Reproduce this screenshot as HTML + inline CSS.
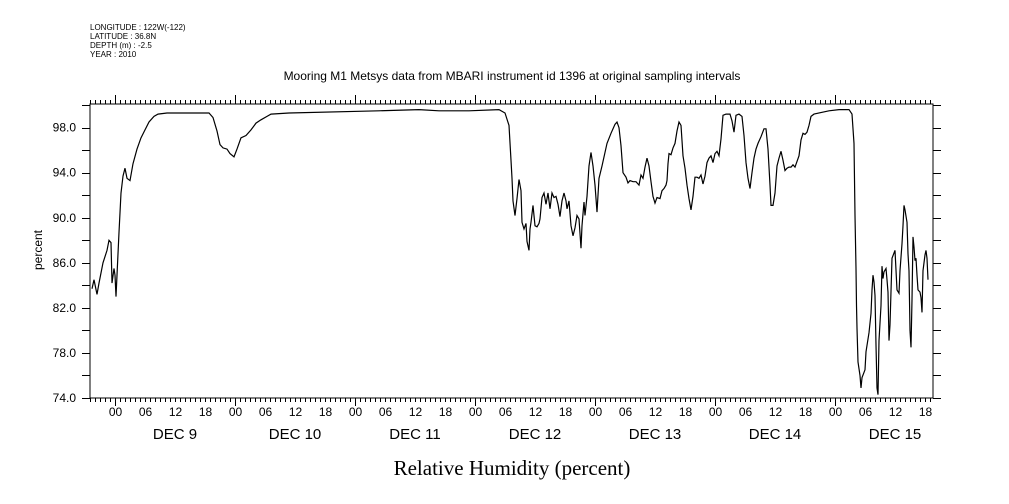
<!DOCTYPE html>
<html><head><meta charset="utf-8"><style>
html,body{margin:0;padding:0;background:#fff;}
svg{display:block;font-family:"Liberation Sans",sans-serif;}
</style></head><body>
<svg id="chart" width="1009" height="504" viewBox="0 0 1009 504" xmlns="http://www.w3.org/2000/svg">
<rect width="1009" height="504" fill="#fff"/>
<g font-size="8" fill="#000">
<text x="90" y="30">LONGITUDE : 122W(-122)</text>
<text x="90" y="39">LATITUDE : 36.8N</text>
<text x="90" y="48">DEPTH (m) : -2.5</text>
<text x="90" y="57">YEAR : 2010</text>
</g>
<text x="512" y="80" text-anchor="middle" font-size="12">Mooring M1 Metsys data from MBARI instrument id 1396 at original sampling intervals</text>
<text x="512" y="475" text-anchor="middle" font-size="21" font-family="Liberation Serif, serif">Relative Humidity (percent)</text>
<text x="42" y="250" text-anchor="middle" font-size="12" transform="rotate(-90 42 250)">percent</text>
<g id="axes" stroke="#000" stroke-width="1" shape-rendering="crispEdges"></g>
<g id="labels" fill="#000" font-size="12"></g>
<path id="line" fill="none" stroke="#000" stroke-width="1.2"/>
</svg>
<script>
// hours since Dec 9 00:00 (2010)
const times = [-4.6,-4.2,-3.6,-3.2,-2.4,-1.6,-1.2,-0.8,-0.6,-0.2,0,0.2,0.4,0.8,1.2,1.6,2.0,2.4,3.0,3.6,4.4,5.2,6.0,6.8,7.8,8.6,10.4,18.8,19.6,20.4,21.0,21.6,22.4,23.0,23.8,24.4,25.2,26.2,27.2,28.2,29.2,30.4,31.2,34.8,52.8,60.8,64.8,70.8,76.8,78.0,
78.8,79.2,79.4,79.6,80.0,80.4,80.8,81.2,81.4,81.8,82.2,82.4,82.8,83.0,83.2,83.6,84.0,84.4,84.8,85.0,85.4,85.8,86.2,86.6,87.0,87.4,87.8,88.2,88.6,89.0,89.4,89.8,90.2,90.4,90.8,91.2,91.6,92.0,92.4,92.8,93.2,93.4,93.8,94.0,94.4,94.8,95.2,95.6,96.0,96.4,96.8,97.4,98.4,99.2,100.0,100.4,100.8,101.2,101.6,102.2,102.6,103.0,103.6,104.2,104.8,105.2,105.6,106.0,106.4,106.8,107.2,107.6,108.0,108.4,109.0,109.4,109.8,110.2,110.4,110.6,110.8,111.2,111.6,112.0,112.4,112.8,113.2,113.6,114.0,114.4,114.8,115.2,115.6,116.0,116.4,116.8,117.2,117.6,118.0,118.4,118.8,119.2,119.6,120.0,120.4,120.8,121.2,121.6,122.2,123.0,123.4,123.8,124.2,124.8,125.4,125.8,126.2,126.6,127.0,127.4,127.8,128.2,128.6,129.2,129.8,130.2,130.6,131.0,131.2,131.6,132.0,132.4,132.8,133.2,133.6,134.0,134.4,134.8,135.2,135.6,136.0,136.4,136.8,137.2,137.6,138.0,138.4,138.8,139.2,139.8,142.8,144.8,146.8,147.4,147.8,148.0,148.2,148.3,148.4,148.6,149.0,149.2,149.4,150.0,150.2,150.8,151.2,151.4,151.6,151.8,152.0,152.2,152.4,152.6,152.8,153.2,153.4,153.6,153.8,154.2,154.4,154.6,154.8,155.0,155.4,156.0,156.4,156.8,157.0,157.4,157.6,157.8,158.0,158.4,158.6,158.8,159.0,159.2,159.4,159.6,159.8,160.0,160.2,160.4,160.6,161.0,161.2,161.4,161.6,162.0,162.2,162.4,162.6];
const values = [83.7,84.5,83.2,84.2,86.0,87.1,88.0,87.8,84.2,85.5,84.9,83.0,84.9,88.7,92.2,93.7,94.4,93.5,93.3,94.8,96.1,97.1,97.8,98.5,99.0,99.2,99.3,99.3,98.9,97.7,96.5,96.2,96.1,95.7,95.4,96.1,97.1,97.3,97.8,98.4,98.7,99.0,99.2,99.3,99.5,99.6,99.5,99.5,99.6,99.3,
98.2,95.1,93.5,91.5,90.2,91.7,93.4,92.4,89.6,89.0,89.5,87.9,87.1,89.0,89.6,91.1,89.3,89.2,89.5,89.9,91.8,92.2,91.2,92.2,90.8,92.2,91.8,91.9,91.2,90.1,91.5,92.2,91.5,90.8,91.5,89.3,88.4,89.1,90.2,89.9,87.3,89.3,91.4,90.2,91.9,94.6,95.8,94.6,92.9,90.5,93.5,94.6,96.6,97.5,98.3,98.5,98.0,96.4,94.0,93.6,93.1,93.3,93.2,93.2,92.9,93.8,93.5,94.5,95.3,94.6,93.2,91.9,91.3,91.8,91.7,92.4,92.6,92.9,93.3,94.8,95.7,95.6,96.2,96.6,97.7,98.5,98.2,95.5,94.4,92.9,91.7,90.7,91.9,93.6,93.6,93.5,93.8,93.0,93.7,94.9,95.3,95.5,94.9,95.7,95.9,95.5,97.0,99.1,99.2,99.2,98.6,97.6,99.1,99.2,99.0,97.3,94.9,93.5,92.6,94.0,95.3,96.1,96.6,97.2,97.9,97.9,96.1,92.9,91.1,91.1,92.2,94.6,95.3,95.9,95.1,94.2,94.4,94.5,94.5,94.7,94.5,95.0,95.5,96.9,97.5,97.4,97.6,98.2,99.0,99.2,99.5,99.6,99.6,99.2,96.6,90.2,85.5,82.2,80.2,77.2,76.0,74.9,75.8,76.5,78.1,79.8,81.5,83.6,84.9,84.3,83.1,78.7,74.9,74.3,79.1,82.2,85.7,84.6,85.2,85.5,84.5,83.4,79.1,80.5,86.4,87.1,83.6,83.3,85.3,87.7,89.3,91.1,90.7,89.6,86.8,85.3,80.0,78.5,82.7,88.3,87.4,86.2,86.4,84.9,83.6,83.4,82.9,81.6,85.3,86.7,87.1,86.4,84.5];
const yTicks = [74,78,82,86,90,94,98];
const yTickLabels = ["74.0","78.0","82.0","86.0","90.0","94.0","98.0"];
const dayLabels = ["DEC  9","DEC 10","DEC 11","DEC 12","DEC 13","DEC 14","DEC 15"];
const hourLabels = ["00","06","12","18"];

const L=90,R=933,T=104,B=398;
const hMin=-5.0, hMax=163.6, vMin=74, vMax=100.1;
const xs=h=>L+(h-hMin)/(hMax-hMin)*(R-L);
const ys=v=>B-(v-vMin)/(vMax-vMin)*(B-T);
const NS="http://www.w3.org/2000/svg";
const axes=document.getElementById('axes'), labels=document.getElementById('labels');
function ln(x1,y1,x2,y2,name){const e=document.createElementNS(NS,'line');e.setAttribute('x1',x1);e.setAttribute('y1',y1);e.setAttribute('x2',x2);e.setAttribute('y2',y2);


axes.appendChild(e);}
function tx(x,y,s,anchor,size,name){const e=document.createElementNS(NS,'text');e.setAttribute('x',x);e.setAttribute('y',y);e.setAttribute('text-anchor',anchor);if(size)e.setAttribute('font-size',size);e.textContent=s;


labels.appendChild(e);}
// frame
const fr=document.createElementNS(NS,'rect');fr.setAttribute('x',L);fr.setAttribute('y',T);fr.setAttribute('width',R-L);fr.setAttribute('height',B-T);fr.setAttribute('fill','none');


axes.appendChild(fr);
// y ticks
for(let v=74;v<=100;v+=2){const y=Math.round(ys(v))+0.5;ln(L-8,y,L,y,'y-tick');ln(R,y,R+8,y,'y-tick-right');}
yTicks.forEach((v,i)=>tx(L-14,ys(v)+4,yTickLabels[i],'end',12,'y-tick-label'));
// x ticks
for(let h=Math.ceil(hMin);h<=hMax;h++){const x=Math.round(xs(h))+0.5;const major=((h%24)+24)%24===0;
ln(x,B,x,B+(major?8:4),'x-tick');ln(x,T,x,T-(major?9:4),'x-tick-top');
if(h%6===0&&h>=0){tx(x,416,hourLabels[((h%24)/6)],'middle',12,'x-hour-label');}}
dayLabels.forEach((d,i)=>tx(xs(i*24+12),439,d,'middle',15,'x-day-label'));
// line
let dstr='';times.forEach((t,i)=>{dstr+=(i?'L':'M')+xs(t).toFixed(1)+' '+ys(values[i]).toFixed(1);});
document.getElementById('line').setAttribute('d',dstr);
</script>
</body></html>
